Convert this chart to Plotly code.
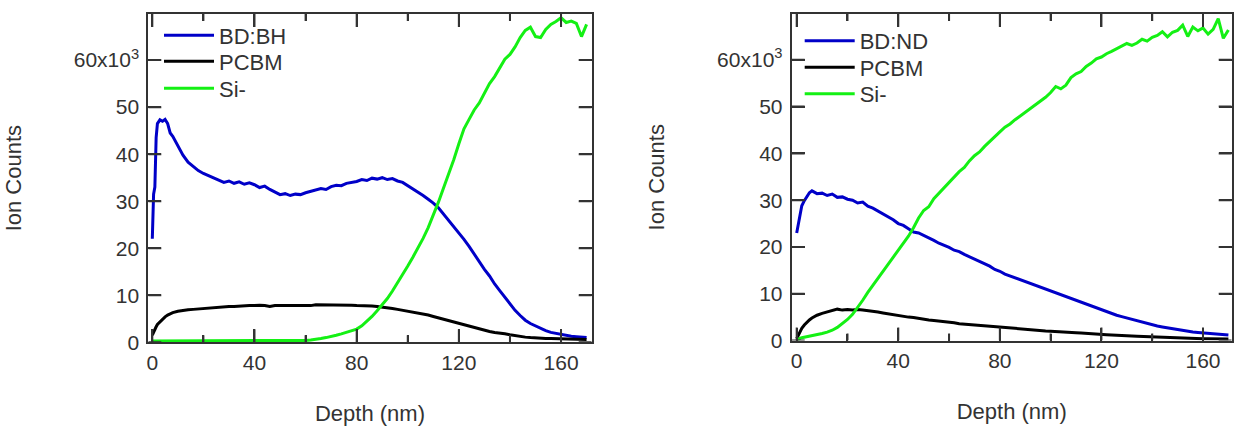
import plotly.graph_objects as go

# Depth grid (nm)
depth = [0, 0.5, 1, 1.5, 2, 3, 4, 5, 6, 7, 8,
         10, 12, 14, 16, 18, 20, 22, 24, 26, 28,
         30, 32, 34, 36, 38, 40, 42, 44, 46, 48,
         50, 52, 54, 56, 58, 60, 62, 64, 66, 68,
         70, 72, 74, 76, 78, 80, 82, 84, 86, 88,
         90, 92, 94, 96, 98, 100, 102, 104, 106, 108,
         110, 112, 114, 116, 118, 120, 122, 124, 126, 128,
         130, 132, 134, 136, 138, 140, 142, 144, 146, 148,
         150, 152, 154, 156, 158, 160, 162, 164, 166, 168, 170]

# Left panel (values in thousands of counts)
bh_blend = [22.0, 31.5, 33.0, 43.5, 46.5, 47.3, 47.0, 47.4, 46.5, 44.5, 43.8,
            41.8, 39.8, 38.3, 37.4, 36.5, 35.9, 35.4, 35.0, 34.4, 34.0,
            34.3, 33.8, 34.1, 33.6, 33.9, 33.5, 32.9, 33.2, 32.5, 31.9,
            31.4, 31.6, 31.2, 31.5, 31.4, 31.8, 32.1, 32.4, 32.7, 32.5,
            33.1, 33.4, 33.3, 33.8, 34.0, 34.2, 34.6, 34.4, 34.9, 34.7,
            35.0, 34.6, 34.8, 34.3, 34.0, 33.3, 32.6, 32.0, 31.2, 30.4,
            29.6, 28.6, 27.3, 26.0, 24.6, 23.2, 21.9, 20.4, 18.7, 17.1,
            15.5, 14.1, 12.4, 11.0, 9.6, 8.1, 6.8, 5.7, 4.7, 4.0,
            3.5, 2.9, 2.5, 2.1, 1.9, 1.6, 1.5, 1.3, 1.2, 1.1, 1.0]
bh_pcbm = [1.5, 2.2, 2.8, 3.3, 3.8, 4.4, 5.0, 5.4, 5.8, 6.1, 6.3,
           6.6, 6.8, 6.9, 7.0, 7.1, 7.2, 7.3, 7.4, 7.4, 7.5,
           7.6, 7.6, 7.7, 7.7, 7.8, 7.8, 7.9, 7.8, 7.6, 7.8,
           7.8, 7.9, 7.8, 7.8, 7.8, 7.9, 7.8, 8.0, 8.0, 7.9,
           8.0, 7.9, 7.9, 7.9, 7.9, 7.8, 7.8, 7.8, 7.7, 7.6,
           7.5, 7.4, 7.2, 7.0, 6.8, 6.6, 6.4, 6.3, 6.1, 5.8,
           5.5, 5.2, 4.9, 4.6, 4.3, 4.0, 3.7, 3.4, 3.1, 2.8,
           2.6, 2.3, 2.1, 2.0, 1.8, 1.6, 1.4, 1.2, 1.1, 1.0,
           0.9, 0.85, 0.8, 0.8, 0.75, 0.7, 0.7, 0.7, 0.65, 0.65, 0.6]
bh_si = [0.3, 0.3, 0.3, 0.3, 0.3, 0.3, 0.3, 0.3, 0.3, 0.3, 0.3,
         0.3, 0.3, 0.3, 0.3, 0.3, 0.3, 0.3, 0.3, 0.3, 0.3,
         0.3, 0.3, 0.3, 0.3, 0.3, 0.3, 0.3, 0.3, 0.3, 0.3,
         0.3, 0.3, 0.3, 0.3, 0.3, 0.4, 0.5, 0.6, 0.8, 1.0,
         1.2, 1.5, 1.8, 2.1, 2.4, 2.8, 3.5, 4.4, 5.5, 6.7,
         7.9, 9.3, 10.9, 12.6, 14.4, 16.2, 18.1, 20.0, 22.1, 24.4,
         27.0, 29.8, 32.8, 35.6, 38.8, 42.2, 45.4, 47.4, 49.4, 50.9,
         53.0, 55.0, 56.5, 58.5, 60.2, 61.2, 62.8, 64.8, 66.3, 67.0,
         65.0, 64.8, 66.5, 67.6, 68.2, 69.0, 68.0, 68.3, 67.8, 65.0, 67.6]

# Right panel (values in thousands of counts)
nd_blend = [23.0, 24.5, 26.5, 27.8, 28.8, 29.9, 30.8, 31.6, 32.0, 31.7, 31.4,
            31.5, 31.0, 31.3, 30.6, 30.7, 30.2, 30.0, 29.4, 29.6, 28.7,
            28.3, 27.7, 27.0, 26.4, 25.8, 25.0, 24.6, 23.9, 23.2, 23.0,
            22.5, 21.9, 21.4, 20.8, 20.4, 19.9, 19.3, 19.0, 18.4, 17.9,
            17.4, 16.9, 16.3, 15.9, 15.2, 14.8, 14.2, 13.8, 13.4, 13.0,
            12.6, 12.2, 11.7, 11.3, 10.9, 10.6, 10.1, 9.8, 9.3, 8.9,
            8.5, 8.1, 7.7, 7.3, 6.9, 6.5, 6.1, 5.8, 5.4, 5.1,
            4.8, 4.5, 4.2, 3.9, 3.6, 3.3, 3.1, 2.9, 2.7, 2.5,
            2.3, 2.1, 2.0, 1.8, 1.7, 1.6, 1.5, 1.4, 1.3, 1.3, 1.2]
nd_pcbm = [0.4, 1.0, 1.6, 2.1, 2.6, 3.3, 3.9, 4.4, 4.8, 5.1, 5.4,
           5.8, 6.1, 6.4, 6.7, 6.5, 6.6, 6.5, 6.6, 6.5, 6.4,
           6.3, 6.1, 5.9, 5.7, 5.5, 5.3, 5.2, 5.0, 4.9, 4.7,
           4.6, 4.4, 4.3, 4.2, 4.0, 3.9, 3.8, 3.6, 3.5, 3.4,
           3.3, 3.2, 3.1, 3.0, 2.9, 2.8, 2.7, 2.6, 2.5, 2.4,
           2.3, 2.25, 2.2, 2.1, 2.05, 2.0, 1.9, 1.85, 1.8, 1.7,
           1.65, 1.6, 1.5, 1.45, 1.4, 1.3, 1.25, 1.2, 1.1, 1.05,
           1.0, 0.95, 0.9, 0.85, 0.8, 0.75, 0.7, 0.65, 0.6, 0.6,
           0.55, 0.5, 0.5, 0.45, 0.45, 0.4, 0.4, 0.4, 0.35, 0.35, 0.3]
nd_si = [0.1, 0.3, 0.4, 0.5, 0.6, 0.7, 0.9, 1.0, 1.1, 1.2, 1.3,
         1.5, 1.8, 2.2, 2.8, 3.6, 4.5, 5.6, 7.0, 8.6, 10.3,
         11.8, 13.4, 14.9, 16.3, 17.9, 19.4, 20.9, 22.3, 24.1, 26.2,
         27.8, 28.6, 30.3, 31.5, 32.5, 33.8, 35.0, 36.1, 37.0, 38.4,
         39.5, 40.3, 41.5, 42.6, 43.5, 44.6, 45.6, 46.3, 47.2, 48.0,
         48.8, 49.6, 50.5, 51.3, 52.0, 53.0, 54.3, 53.8, 54.6, 56.2,
         57.0, 57.5, 58.6, 59.3, 60.2, 60.6, 61.3, 61.8, 62.4, 62.9,
         63.5, 63.1, 63.6, 64.4, 64.0, 64.8, 65.2, 66.0, 64.9, 65.9,
         66.3, 67.4, 65.0, 67.0, 66.2, 66.8, 65.5, 66.5, 68.8, 64.6, 66.4]

x_tick_vals = [0, 40, 80, 120, 160]
x_minor_vals = [20, 60, 100, 140]
y_tick_vals = [0, 10000, 20000, 30000, 40000, 50000, 60000]
y_tick_text = ["0", "10", "20", "30", "40", "50", "60x10<sup>3</sup>"]

BLUE = "#0000C8"
BLACK = "#000000"
GREEN = "#14F014"
AXC = "#333333"
TXT = "#333333"
FONT = "Arial"
W, H = 1245, 431
MAJOR_LEN, MINOR_LEN = 13, 7
Y_RANGE = [0, 69800]

# subplot frames in page pixels: (left, right, top, bottom) and x ranges
frames = {"x": (148.3, 591.7, 14.0, 342.3), "x2": (791.7, 1231.7, 14.0, 340.5)}
x_ranges = {"x": [-1.57, 172.0], "x2": [-1.97, 171.3]}


def counts(v):
    return [a * 1000 for a in v]


panels = [
    ("x", "y", [("BD:BH", bh_blend, BLUE, "legend", 159, 14.5),
                ("PCBM", bh_pcbm, BLACK, "legend3", 159, 40.5),
                ("Si-", bh_si, GREEN, "legend4", 159, 67.5)]),
    ("x2", "y2", [("BD:ND", nd_blend, BLUE, "legend2", 799.7, 20),
                  ("PCBM", nd_pcbm, BLACK, "legend5", 799.7, 46.5),
                  ("Si-", nd_si, GREEN, "legend6", 799.7, 73)]),
]

fig = go.Figure()
legends = {}
for xa, ya, series in panels:
    for name, vals, col, lg, lx, ly in series:
        fig.add_trace(go.Scatter(x=depth, y=counts(vals), name=name, mode="lines",
                                 line=dict(color=col, width=3),
                                 xaxis=xa, yaxis=ya, legend=lg))
        legends[lg] = dict(x=lx / W, y=(H - ly) / H, xanchor="left", yanchor="top",
                           bgcolor="rgba(0,0,0,0)", borderwidth=0,
                           font=dict(family=FONT, size=22, color=TXT),
                           itemwidth=50, tracegroupgap=0)

# Inside tick marks on all four frame sides, drawn as line paths in axis units
for xa, ya, _ in panels:
    left, right, top, bottom = frames[xa]
    x0r, x1r = x_ranges[xa]
    y_per_px = (Y_RANGE[1] - Y_RANGE[0]) / (bottom - top)
    x_per_px = (x1r - x0r) / (right - left)
    tx, ty = [], []
    for vals, ln in ((x_tick_vals, MAJOR_LEN), (x_minor_vals, MINOR_LEN)):
        dy = ln * y_per_px
        for v in vals:
            tx += [v, v, None, v, v, None]
            ty += [Y_RANGE[0], Y_RANGE[0] + dy, None, Y_RANGE[1] - dy, Y_RANGE[1], None]
    dx = MAJOR_LEN * x_per_px
    for v in y_tick_vals:
        tx += [x0r, x0r + dx, None, x1r - dx, x1r, None]
        ty += [v, v, None, v, v, None]
    fig.add_trace(go.Scatter(x=tx, y=ty, mode="lines", line=dict(color=AXC, width=2),
                             showlegend=False, hoverinfo="skip", xaxis=xa, yaxis=ya))


def xaxis_cfg(xa, anchor):
    left, right, top, bottom = frames[xa]
    return dict(domain=[left / W, right / W], range=x_ranges[xa], autorange=False,
                anchor=anchor, automargin=False,
                showline=True, linecolor=AXC, linewidth=2, mirror="allticks",
                ticks="inside", ticklen=MAJOR_LEN, tickwidth=2, tickcolor=AXC,
                minor=dict(tickmode="array", tickvals=x_minor_vals, ticks="inside",
                           ticklen=MINOR_LEN, tickwidth=2, tickcolor=AXC, showgrid=False),
                showgrid=False, zeroline=False,
                tickmode="array", tickvals=x_tick_vals,
                tickfont=dict(family=FONT, size=21, color=TXT),
                ticklabelstandoff=0,
                title=dict(text="Depth (nm)", font=dict(family=FONT, size=22, color=TXT),
                           standoff=33))


def yaxis_cfg(xa, anchor):
    left, right, top, bottom = frames[xa]
    return dict(domain=[(H - bottom) / H, (H - top) / H], range=Y_RANGE, autorange=False,
                anchor=anchor, automargin=False,
                showline=True, linecolor=AXC, linewidth=2, mirror="allticks",
                ticks="inside", ticklen=MAJOR_LEN, tickwidth=2, tickcolor=AXC,
                showgrid=False, zeroline=False,
                tickmode="array", tickvals=y_tick_vals, ticktext=y_tick_text,
                tickfont=dict(family=FONT, size=21, color=TXT),
                ticklabelstandoff=3,
                title=dict(text="Ion Counts", font=dict(family=FONT, size=22, color=TXT),
                           standoff=46))


fig.update_layout(
    template="none",
    width=W, height=H, margin=dict(l=0, r=0, t=0, b=0, pad=0, autoexpand=False),
    paper_bgcolor="white", plot_bgcolor="white",
    font=dict(family=FONT, color=TXT),
    xaxis=xaxis_cfg("x", "y"),
    yaxis=yaxis_cfg("x", "x"),
    xaxis2=xaxis_cfg("x2", "y2"),
    yaxis2=yaxis_cfg("x2", "x2"),
    showlegend=True,
    **legends,
)

fig.write_html("out.html")
